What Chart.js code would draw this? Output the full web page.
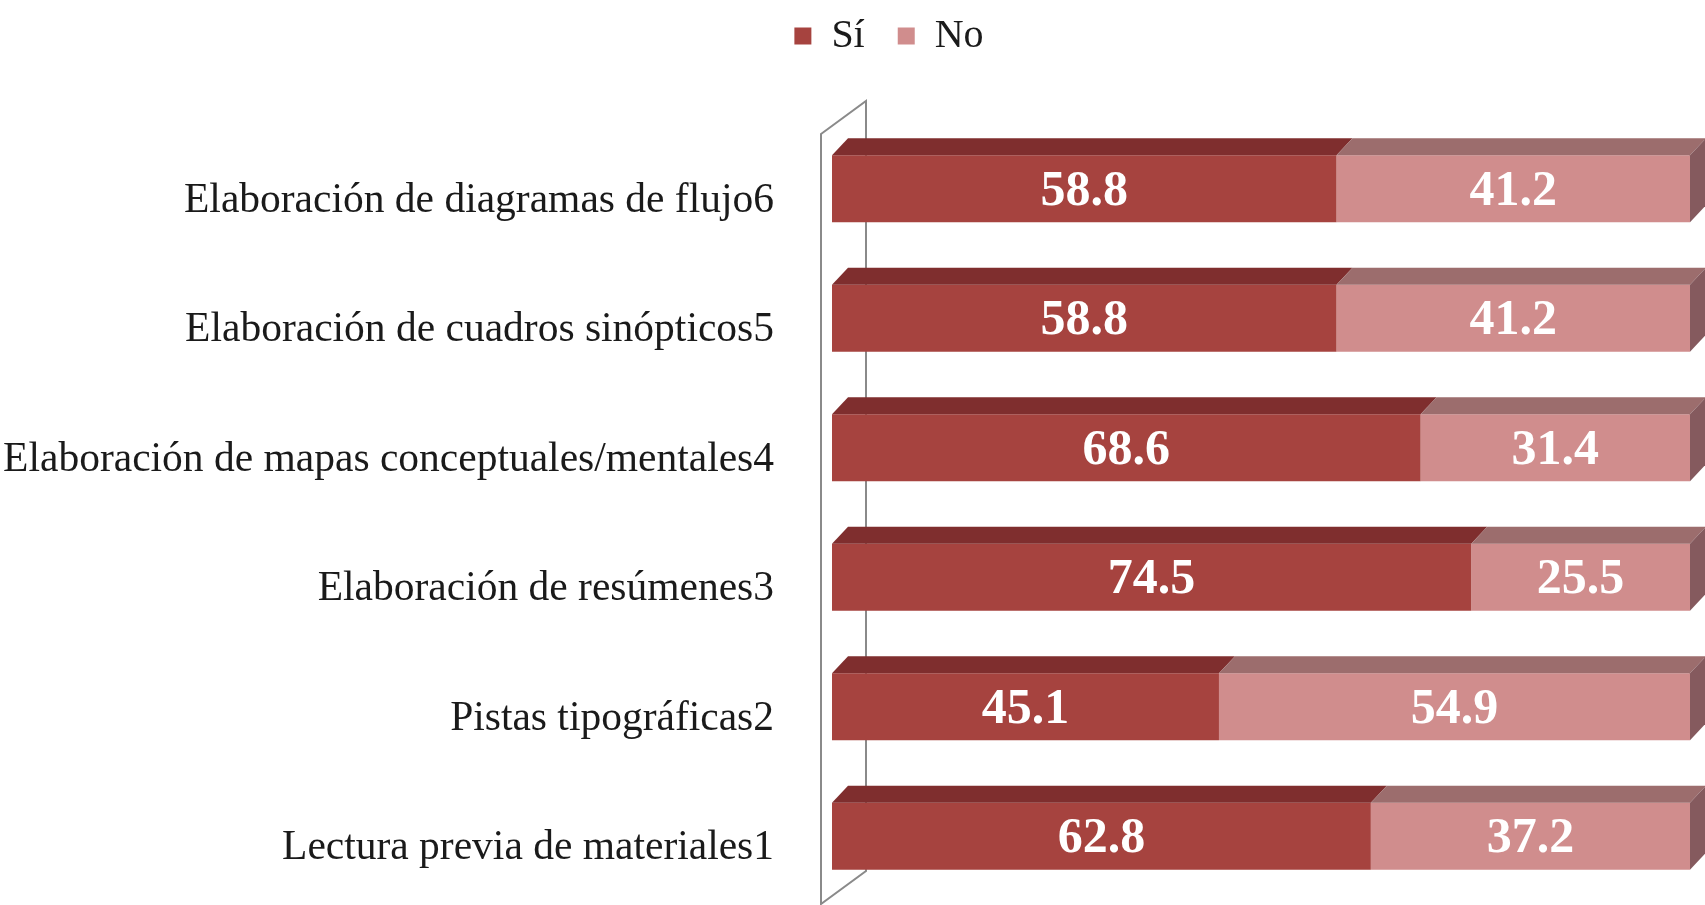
<!DOCTYPE html>
<html>
<head>
<meta charset="utf-8">
<script src="https://cdn.jsdelivr.net/npm/chart.js@4.4.1/dist/chart.umd.min.js"></script>
<style>
  html, body { margin: 0; padding: 0; background: #fff; overflow: hidden; }
  canvas { display: block; }
</style>
</head>
<body>
<canvas id="grafico" width="1705" height="905"></canvas>
<script>
// datos
const categorias = [
    "Elaboración de diagramas de flujo6",
    "Elaboración de cuadros sinópticos5",
    "Elaboración de mapas conceptuales/mentales4",
    "Elaboración de resúmenes3",
    "Pistas tipográficas2",
    "Lectura previa de materiales1"
];
const valoresSi = [58.8, 58.8, 68.6, 74.5, 45.1, 62.8];
const valoresNo = [41.2, 41.2, 31.4, 25.5, 54.9, 37.2];

// colores (frente, cara superior, cara lateral)
const colSi = ['#A6433F', '#7F2E2E', '#6E2828'];
const colNo = ['#D08D8D', '#9C6D6D', '#855A5E'];
const prof = { dx: 16, dy: -17 };

// pared lateral en 3D detras de las barras
const pared = {
    id: 'pared',
    beforeDatasetsDraw(chart) {
        const a = chart.chartArea, ctx = chart.ctx;
        const fx = a.left - 11, bx = a.left + 34;
        const t = a.top + 10, b = a.bottom + 3, dy = -33;
        ctx.save();
        ctx.beginPath();
        ctx.moveTo(fx, t);
        ctx.lineTo(bx, t + dy);
        ctx.lineTo(bx, b + dy);
        ctx.lineTo(fx, b);
        ctx.closePath();
        ctx.fillStyle = '#ffffff';
        ctx.fill();
        ctx.strokeStyle = '#8a8a8a';
        ctx.lineWidth = 2;
        ctx.stroke();
        ctx.restore();
    }
};

// caras superior y lateral + etiquetas de valor
const caras = {
    id: 'caras',
    afterDatasetsDraw(chart) {
        const ctx = chart.ctx;
        const n = chart.data.datasets.length;
        chart.data.datasets.forEach((ds, di) => {
            const cols = di === 0 ? colSi : colNo;
            chart.getDatasetMeta(di).data.forEach((bar) => {
                const p = bar.getProps(['x', 'y', 'base', 'height'], true);
                const top = p.y - p.height / 2, bot = p.y + p.height / 2;
                ctx.save();
                ctx.beginPath();
                ctx.moveTo(p.base, top);
                ctx.lineTo(p.base + prof.dx, top + prof.dy);
                ctx.lineTo(p.x + prof.dx, top + prof.dy);
                ctx.lineTo(p.x, top);
                ctx.closePath();
                ctx.fillStyle = cols[1];
                ctx.fill();
                if (di === n - 1) {
                    ctx.beginPath();
                    ctx.moveTo(p.x, top);
                    ctx.lineTo(p.x + prof.dx, top + prof.dy);
                    ctx.lineTo(p.x + prof.dx, bot + prof.dy);
                    ctx.lineTo(p.x, bot);
                    ctx.closePath();
                    ctx.fillStyle = cols[2];
                    ctx.fill();
                }
                ctx.restore();
            });
        });
        // etiquetas
        ctx.save();
        ctx.font = 'bold 50px "Liberation Serif"';
        ctx.fillStyle = '#ffffff';
        ctx.textAlign = 'center';
        ctx.textBaseline = 'middle';
        chart.data.datasets.forEach((ds, di) => {
            chart.getDatasetMeta(di).data.forEach((bar, i) => {
                const p = bar.getProps(['x', 'y', 'base'], true);
                ctx.fillText(ds.data[i].toFixed(1), (p.x + p.base) / 2, p.y + 3);
            });
        });
        ctx.restore();
    }
};

// mover la leyenda a su sitio
const moverLeyenda = {
    id: 'moverLeyenda',
    afterLayout(chart) {
        const lg = chart.legend;
        lg.left += 44; lg.right += 44;
        lg.top -= 17; lg.bottom -= 17;
    }
};

new Chart(document.getElementById('grafico'), {
    type: 'bar',
    data: {
        labels: categorias,
        datasets: [
            { label: 'Sí', data: valoresSi, backgroundColor: colSi[0], borderWidth: 0 },
            { label: 'No', data: valoresNo, backgroundColor: colNo[0], borderWidth: 0 }
        ]
    },
    options: {
        indexAxis: 'y',
        responsive: false,
        animation: false,
        categoryPercentage: 1,
        barPercentage: 0.517,
        layout: { padding: { top: 0, right: 15, bottom: 4, left: 0 } },
        plugins: {
            tooltip: { enabled: false },
            legend: {
                position: 'top',
                labels: {
                    boxWidth: 17,
                    boxHeight: 17,
                    padding: 33,
                    color: '#1a1a1a',
                    font: { family: '"Liberation Serif"', size: 40 }
                }
            }
        },
        scales: {
            x: {
                stacked: true,
                position: 'top',
                min: 0,
                max: 100,
                grid: { display: false, drawTicks: false },
                border: { display: false },
                ticks: { display: false },
                afterFit(s) { s.height = 41; }
            },
            y: {
                stacked: true,
                grid: { display: false, drawTicks: false },
                border: { display: false },
                ticks: {
                    padding: 58,
                    labelOffset: 12,
                    color: '#1a1a1a',
                    font: { family: '"Liberation Serif"', size: 41.5 }
                },
                afterFit(s) {
                    s.width = 832;
                    s.paddingTop = 0;
                    s.paddingBottom = 0;
                }
            }
        }
    },
    plugins: [pared, caras, moverLeyenda]
});
</script>
</body>
</html>
